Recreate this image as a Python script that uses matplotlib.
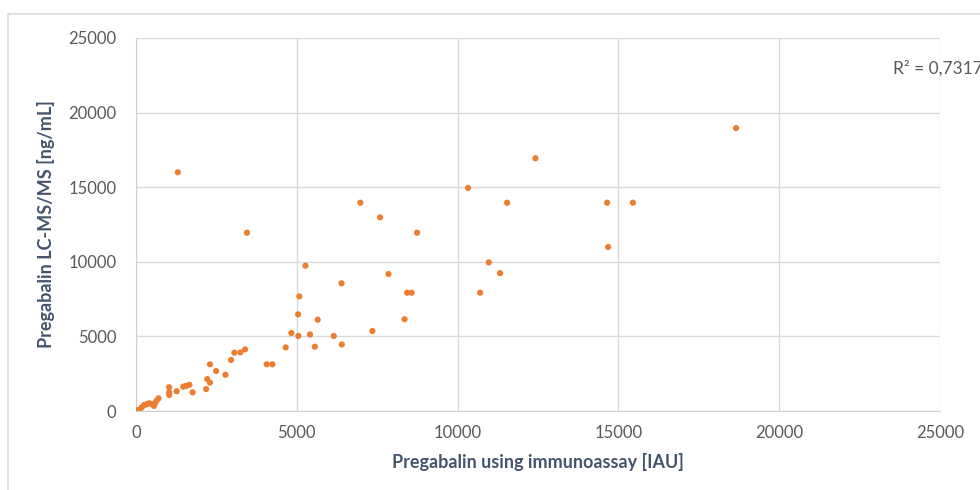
import matplotlib.pyplot as plt
from matplotlib.patches import Rectangle

plt.rcParams['font.family'] = ['Lato', 'DejaVu Sans']

# immunoassay [IAU] vs LC-MS/MS [ng/mL]
x_data = [30, 100, 180, 250, 330, 410, 500, 560, 590, 640, 700,
          1030, 1030, 1035, 1265, 1300, 1470, 1555, 1660, 1760,
          2180, 2215, 2300, 2300, 2490, 2780, 2955, 3060, 3245, 3390, 3450,
          4065, 4240, 4655, 4830, 5050, 5040, 5080, 5270, 5410,
          5560, 5650, 6150, 6390, 6400, 6975, 7350, 7590, 7850,
          8350, 8430, 8570, 8740, 10325, 10700, 10970, 11320, 11540,
          12420, 14650, 14680, 15450, 18660]
y_data = [50, 70, 250, 400, 450, 520, 450, 340, 520, 690, 850,
          1590, 1250, 1070, 1320, 16000, 1630, 1680, 1760, 1250,
          1470, 2140, 1900, 3130, 2680, 2430, 3420, 3910, 3930, 4130, 11950,
          3130, 3130, 4260, 5230, 5030, 6480, 7680, 9740, 5130,
          4310, 6120, 5030, 8560, 4460, 13960, 5360, 12980, 9180,
          6150, 7930, 7930, 11950, 14950, 7930, 9960, 9240, 13960,
          16940, 13960, 10990, 13960, 18960]

r2_text = 'R² = 0,7317'
ticks = [0, 5000, 10000, 15000, 20000, 25000]

fig = plt.figure(figsize=(9.8, 4.9), dpi=100)
fig.patches.append(Rectangle((8 / 980, -0.1), 1.1, 1 - 14 / 490 + 0.1,
                             transform=fig.transFigure, fill=False,
                             edgecolor='#D9D9D9', linewidth=1.2))
ax = fig.add_axes([136 / 980, 1 - 411 / 490, 804 / 980, 373 / 490])

ax.scatter(x_data, y_data, s=20, color='#ED7D31', edgecolors='none', zorder=3)

ax.set_xlim(0, 25000)
ax.set_ylim(0, 25000)
ax.set_xticks(ticks)
ax.set_yticks(ticks)
ax.grid(True, color='#D9D9D9', linewidth=1)
ax.set_axisbelow(True)
for s in ['top', 'right']:
    ax.spines[s].set_visible(False)
for s in ['left', 'bottom']:
    ax.spines[s].set_color('#D0D0D0')
ax.tick_params(length=0, labelsize=12, labelcolor='#595959', pad=10)
ax.tick_params(axis='y', pad=14)

ax.set_xlabel('Pregabalin using immunoassay [IAU]', fontsize=13,
              fontweight='bold', color='#44546A', labelpad=9)
ax.set_ylabel('Pregabalin LC-MS/MS [ng/mL]', fontsize=13,
              fontweight='bold', color='#44546A', labelpad=10)

fig.text(893 / 980, 1 - 68 / 490, r2_text, fontsize=12.5, color='#595959',
         ha='left', va='center')

fig.savefig('out.png', dpi=100)
